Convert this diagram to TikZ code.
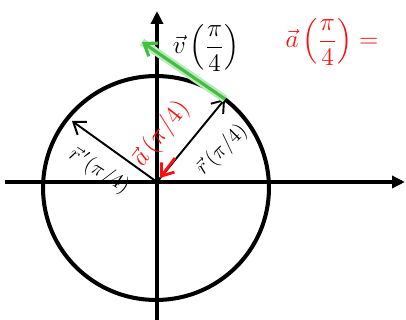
\documentclass[tikz,border=0pt]{standalone}
\usepackage{amsmath}
\usetikzlibrary{arrows.meta}
\definecolor{penred}{rgb}{1,0.05,0.05}
\definecolor{pengreen}{rgb}{0.25,0.75,0.25}
\begin{document}
\begin{tikzpicture}[x=0.02cm,y=-0.02cm,
    axis/.style={line width=2.3pt,-{Triangle[length=2.6mm,width=2.4mm]}},
    vecarr/.style={line width=1.1pt,-{Straight Barb[length=2.2mm,width=3.2mm]}},
    lab/.style={inner sep=0pt,font=\Large}]
  \useasboundingbox (0,0) rectangle (406,320);
  % points of the picture
  \coordinate (O) at (157,182);
  \coordinate (xl) at (5,182);
  \coordinate (xr) at (405,182);
  \coordinate (yb) at (157,320);
  \coordinate (yt) at (157,11);
  \coordinate (rtip) at (225,99);
  \coordinate (rptip) at (72,121);
  \coordinate (vtip) at (142,42);
  \coordinate (astart) at (175,158);
  \coordinate (atip) at (160,178);
  % axes and circle
  \draw[axis] (xl)--(xr);
  \draw[axis] (yb)--(yt);
  \draw[line width=2.3pt] (156,188) ellipse [x radius=2.26cm,y radius=2.24cm];
  % vectors
  \draw[vecarr] (O)--(rtip);
  \draw[vecarr] (O)--(rptip);
  \draw[vecarr,pengreen,line width=1.8pt,preaction={draw,pengreen!35,line width=4.5pt,-}] (rtip)--(vtip);
  \draw[vecarr,penred,line width=1.6pt] (astart)--(atip);
  % labels
  \node[lab] (vlab) at (206,48) {$\vec{v}\left(\dfrac{\pi}{4}\right)$};
  \node[lab,penred] (alab) at (332,42) {$\vec{a}\left(\dfrac{\pi}{4}\right)=$};
  \node[lab,rotate=45,font=\large] (rlab) at (222,150) {$\vec{r}\,(\pi/4)$};
  \node[lab,rotate=-33,font=\large] (rplab) at (99,171) {$\vec{r}\,'(\pi/4)$};
  \node[lab,penred,rotate=52,font=\Large] (aredlab) at (161,134) {$\vec{a}\,(\pi/4)$};
\end{tikzpicture}
\end{document}
